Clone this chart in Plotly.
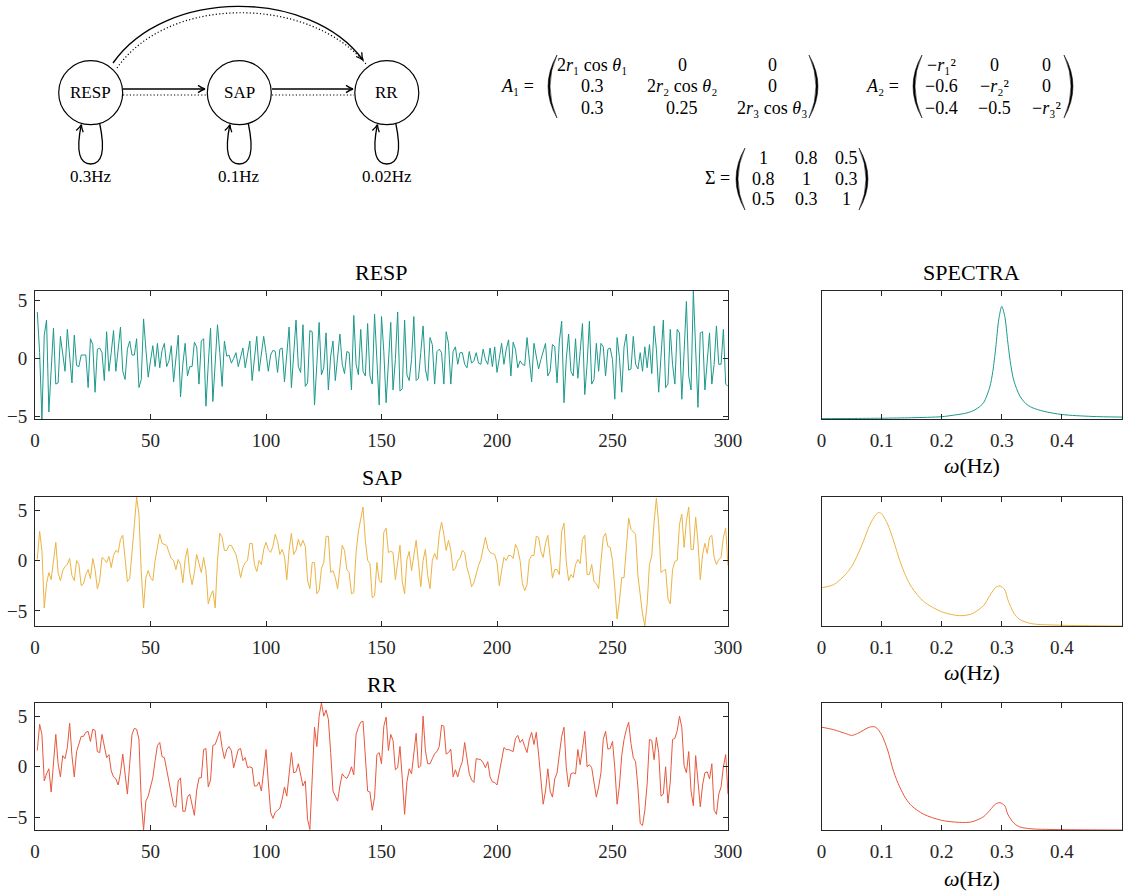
import plotly.graph_objects as go

W, H = 1126, 892

# ---------------- data ----------------
resp = [4.0, 0.5, -5.2, 2.0, 3.3, -4.6, -1.0, 2.6, -2.2, -2.1,
        1.9, 0.3, -1.1, 2.5, 0.5, -2.1, 2.0, -0.6, -0.7, 0.3,
        0.3, 0.3, -2.5, 1.7, 1.2, -2.9, 0.8, 0.9, 0.5, -1.9,
        2.3, -1.1, 0.5, 2.4, -1.1, 0.8, 2.7, -1.1, -1.8, 0.8,
        1.5, 0.3, 0.3, 1.7, -2.5, -1.8, 3.4, 0.8, -1.6, -0.2,
        1.1, -0.7, 1.3, -0.8, 0.7, 1.3, -0.7, -0.2, 1.1, -2.0,
        0.0, 2.0, -3.3, -0.5, 1.3, -1.5, -0.7, -0.7, 1.4, 1.0,
        -2.2, 1.5, 1.7, -4.1, -0.5, 2.6, -3.7, 0.0, 2.9, 0.5,
        -2.4, 1.5, 0.2, 0.3, -0.4, 0.0, 0.5, -0.7, 0.1, 0.9,
        -0.8, 0.5, 1.5, -1.9, 0.0, 1.9, -1.1, 0.3, 1.9, 0.5,
        -1.1, 0.3, 0.7, 0.6, -1.2, 0.8, 0.9, -2.0, 0.3, 2.7,
        -2.5, 0.5, 3.3, -0.7, -1.2, 2.9, -2.4, -2.1, 2.4, 2.3,
        -4.0, -0.5, 3.1, -1.4, -0.8, 2.2, -2.7, 0.2, 1.5, -1.9,
        0.2, 2.1, -0.5, -1.3, 0.6, 0.5, -2.7, 3.7, -0.5, -1.4,
        2.5, -1.1, -1.5, 3.0, -1.5, -2.2, 3.8, -0.5, -4.0, 3.6,
        0.6, -3.8, 0.0, 3.1, -2.7, -0.1, 4.0, -2.8, -2.6, 3.3,
        -1.4, -1.9, -0.1, 3.6, -1.9, -1.7, 0.5, 2.8, -0.9, -1.9,
        1.8, 1.2, -2.2, 0.6, 0.8, 0.5, -2.2, 2.3, 1.3, -2.2,
        0.6, 1.0, -0.5, 0.5, 0.5, -0.5, -0.8, 0.6, -0.4, -0.2,
        0.5, -0.4, -0.5, 0.8, -0.1, -0.5, 0.9, -0.7, 1.0, -1.2,
        0.0, 1.3, -0.5, 0.8, 1.6, -1.5, 1.4, 0.8, -0.8, -0.2,
        -0.5, -0.6, 1.8, 0.0, -2.0, 1.3, 0.2, -0.9, -0.1, 0.6,
        1.3, -1.5, -1.1, 1.2, 1.0, -2.1, 1.5, 3.2, -3.8, 0.0,
        2.1, -1.1, -1.5, 1.7, -1.7, 0.6, 3.0, -3.1, -0.5, 3.2,
        -2.2, -1.8, 1.3, -1.1, 1.3, 1.0, -1.5, 0.8, 0.9, -0.1,
        -3.5, 1.8, 0.1, -2.9, 1.0, 2.1, -1.0, -0.9, 1.9, -0.5,
        -0.9, 0.5, -1.1, 1.0, -0.8, 1.2, -1.3, 2.8, 0.8, -2.9,
        -0.1, 3.3, -2.5, -2.2, 2.5, -0.5, -2.2, 2.5, 2.2, -3.5,
        0.6, 4.9, -1.5, -2.7, 5.8, 0.3, -4.2, 2.2, 2.3, -2.7,
        0.1, 2.2, -2.2, -0.5, 2.8, -0.5, -0.5, 2.5, -2.2, -2.4]

sap = [0.1, 2.9, 1.0, -4.7, -2.3, -1.2, -1.9, 0.3, 1.8, -1.2,
       -2.0, -1.0, -0.6, -0.4, 0.2, -1.5, -2.0, 0.0, -0.4, -2.5,
       -2.3, -1.4, -0.9, -1.8, 0.2, -0.9, -2.8, -2.0, 0.3, 0.1,
       -0.2, 0.4, -0.7, 0.5, 1.0, 0.8, 2.1, 2.5, 0.0, -2.1,
       -1.8, 0.6, 3.5, 6.3, 4.6, -1.2, -4.7, -1.7, -1.0, -1.7,
       -2.0, 0.0, 1.5, 2.6, 1.7, 1.6, 1.5, 0.8, 0.2, 0.0,
       -0.9, 0.1, -0.4, -2.2, 0.1, 1.2, -1.2, -2.4, -1.2, 0.6,
       -0.2, -1.2, 0.3, -1.0, -4.3, -3.5, -3.0, -4.7, 0.0, 2.7,
       2.3, 1.0, 1.0, 1.5, 1.5, 1.0, 0.6, -0.4, -1.7, -0.7,
       -0.2, 0.0, 1.7, 1.7, -0.4, -1.1, 0.0, -0.4, 1.1, 1.8,
       1.1, 0.8, 1.4, 2.6, 1.9, 0.6, 1.1, 0.4, -1.9, 1.0,
       2.7, 0.6, 1.0, 2.1, 1.4, 2.0, 1.4, -2.0, -2.8, -0.2,
       -0.2, -3.3, -3.0, -0.8, -0.2, 2.4, 2.4, -1.2, -1.0, -1.7,
       -2.8, -0.7, 1.5, 1.0, -0.9, -1.2, -3.3, -3.2, 0.8, 2.9,
       4.2, 5.3, 2.0, 0.0, -0.3, -3.7, -3.5, -0.2, -2.0, -2.2,
       2.8, 3.2, 0.8, 0.9, 0.8, -1.9, -0.2, 1.5, -2.1, -3.3,
       0.1, 0.9, -1.0, 0.6, 2.0, -0.2, -2.6, 0.0, 1.1, -1.5,
       -2.8, 0.0, 0.7, 0.1, 2.6, 3.8, 2.6, 1.0, 2.0, 1.0,
       -1.0, -0.8, 0.0, 0.2, 1.0, 0.8, -0.7, -1.5, -2.6, -2.2,
       -1.2, -0.5, 0.1, 1.3, 2.3, 1.2, 0.8, 0.7, 0.6, -0.2,
       -2.5, -1.0, 0.3, 0.0, 0.5, 0.5, 0.2, 1.6, 1.1, 0.0,
       -2.3, -3.0, -2.4, 0.1, 0.5, 0.5, 2.4, 2.3, 0.9, 0.3,
       1.7, 2.5, 0.0, -1.75, -0.9, -0.9, -1.4, 2.9, 3.7, -0.2,
       -2.0, -1.4, -1.7, -0.4, 0.1, -0.3, 2.1, 2.5, -1.4, -1.4,
       -0.4, -2.1, -2.3, -2.8, -0.1, 2.3, 2.7, 1.4, 1.3, 0.0,
       -2.7, -5.8, -4.0, -1.7, -1.7, 1.6, 4.2, 3.1, 2.8, 2.6,
       -1.5, -3.4, -5.3, -6.5, -4.3, -0.4, 0.5, 3.8, 6.2, 3.6,
       -1.2, -1.0, -0.9, -3.8, -4.3, -0.9, -0.1, 0.0, 3.6, 4.6,
       1.3, 3.9, 5.3, 1.1, 1.1, 4.3, 1.8, -1.9, 0.6, 1.7,
       0.7, 2.3, 2.5, 0.3, -0.4, 0.1, 0.3, 2.3, 3.2, -0.5]

rr = [1.6, 4.2, 3.2, -1.4, -0.7, -0.2, -2.5, 0.3, 3.2, 0.3,
      -1.0, 1.1, 0.8, 1.9, 4.3, 1.1, -1.0, 1.5, 2.2, 3.0,
      3.0, 3.4, 3.5, 2.5, 3.7, 3.6, 1.5, 1.4, 3.2, 1.9,
      0.9, 1.2, -0.4, -1.0, -1.2, -1.8, -0.6, 1.25, -0.7, -2.7,
      0.3, 3.2, 3.8, 3.7, 2.7, -3.4, -6.25, -3.4, -2.9, -2.0,
      -1.1, 0.6, 2.1, 2.4, 1.0, 0.9, -0.2, -1.4, -2.4, -3.85,
      -4.0, -1.4, -1.1, -4.4, -4.4, -3.0, -2.7, -3.7, -4.8, -2.3,
      -1.1, -1.1, 1.7, 1.8, -2.0, -1.3, 2.1, 2.2, 2.9, 3.5,
      1.9, 0.8, 1.7, 2.0, 1.6, -0.1, 0.8, 1.7, 1.8, 0.6,
      0.9, -0.1, 0.0, -0.1, -1.9, -1.9, -1.5, -2.4, -0.4, 1.7,
      -1.5, -4.5, -5.1, -4.5, -4.3, -4.1, -3.2, -2.0, -2.9, -0.9,
      1.4, -0.6, -0.5, 0.3, -1.0, -1.9, -1.4, -5.2, -6.2, -1.1,
      3.9, 2.0, 5.0, 6.3, 5.0, 5.6, 4.7, 1.4, -2.4, -2.9,
      -3.4, -1.9, -0.7, -1.0, -1.15, -0.7, 0.0, -0.8, 3.2, 3.9,
      4.4, 4.5, 1.4, -2.4, -2.5, -4.3, -3.0, 1.2, 1.4, 0.3,
      4.0, 4.9, 1.6, 3.2, 2.6, -0.3, -0.1, 2.0, -1.2, -4.7,
      -1.5, -0.2, -0.7, 1.4, 3.3, -0.1, 0.1, 5.0, 1.6, 0.3,
      0.3, 0.8, 1.3, 1.5, 2.0, 4.1, 4.0, 1.25, 1.4, 1.75,
      -1.0, -0.3, -1.0, -0.1, 0.5, 2.4, 0.6, -0.7, -1.3, -1.55,
      0.8, 0.75, 0.7, 0.4, -0.1, 0.5, -1.0, -1.5, -1.55, -1.8,
      -0.6, 0.6, 1.9, 1.7, 1.7, 1.6, 1.5, 2.8, 3.1, 2.4,
      2.7, 2.0, 1.4, 2.7, 3.4, 2.2, 3.4, 1.25, -1.7, -3.7,
      -2.4, -0.2, -2.4, -3.0, -1.2, -0.6, 1.25, 3.0, 3.9, -0.1,
      -2.0, -0.7, -0.6, -0.7, 1.7, 0.2, 1.8, 3.5, 0.0, 0.2,
      -0.1, -1.4, -3.0, -2.0, -0.6, 2.7, 3.5, 1.75, 1.8, 2.5,
      -0.1, -3.7, -1.9, 1.1, 2.7, 3.7, 4.4, 2.3, 0.9, 0.5,
      -2.0, -5.6, -5.8, -4.3, -1.7, 2.7, 2.6, 0.7, 2.9, 1.4,
      -2.9, -2.7, 0.0, -3.6, -1.5, 2.7, 2.8, 3.55, 5.0, 3.9,
      0.1, -0.6, 1.5, -2.4, -3.85, 1.1, -1.8, -3.95, -1.8, -0.6,
      -0.5, -1.2, 0.3, -4.3, -4.7, -2.7, -2.0, 0.0, 1.2, -2.7]

t = list(range(1, len(resp) + 1))

# spectra (arbitrary units)
spec_f_resp = [0, 0.05, 0.1, 0.15, 0.2, 0.22, 0.24, 0.25, 0.26, 0.27, 0.28, 0.285,
               0.29, 0.295, 0.3, 0.305, 0.31, 0.315, 0.32, 0.33, 0.34, 0.35, 0.37,
               0.4, 0.45, 0.5]
spec_resp = [0.003, 0.004, 0.006, 0.01, 0.018, 0.03, 0.045, 0.06, 0.085, 0.13, 0.25, 0.37,
             0.56, 0.78, 0.88, 0.80, 0.60, 0.42, 0.30, 0.18, 0.12, 0.09, 0.06,
             0.035, 0.02, 0.015]

spec_f_sap = [0, 0.02, 0.04, 0.05, 0.06, 0.07, 0.08, 0.09, 0.095, 0.1, 0.11, 0.12,
              0.13, 0.14, 0.15, 0.17, 0.2, 0.23, 0.25, 0.27, 0.28, 0.29, 0.297,
              0.305, 0.31, 0.32, 0.33, 0.35, 0.4, 0.5]
spec_sap = [0.296, 0.32, 0.40, 0.46, 0.55, 0.66, 0.78, 0.86, 0.88, 0.87, 0.79, 0.66,
            0.51, 0.39, 0.30, 0.19, 0.11, 0.08, 0.094, 0.16, 0.236, 0.30, 0.31,
            0.28, 0.205, 0.10, 0.05, 0.018, 0.006, 0.0]

spec_f_rr = [0, 0.02, 0.04, 0.05, 0.06, 0.08, 0.09, 0.1, 0.11, 0.12, 0.13, 0.14,
             0.15, 0.17, 0.2, 0.23, 0.25, 0.27, 0.28, 0.29, 0.297, 0.305, 0.31,
             0.32, 0.33, 0.35, 0.4, 0.5]
spec_rr = [0.81, 0.79, 0.76, 0.745, 0.76, 0.81, 0.81, 0.75, 0.63, 0.46, 0.34, 0.25,
           0.19, 0.124, 0.076, 0.06, 0.064, 0.106, 0.155, 0.206, 0.215, 0.19, 0.124,
           0.055, 0.024, 0.009, 0.003, 0.0]

ts_xticks = [0, 50, 100, 150, 200, 250, 300]
ts_yticks = [-5, 0, 5]
spec_xticks = [0, 0.1, 0.2, 0.3, 0.4]
spec_xticktext = ['0', '0.1', '0.2', '0.3', '0.4']

titles = ['RESP', 'SAP', 'RR']
node_names = ['RESP', 'SAP', 'RR']
node_freqs = ['0.3Hz', '0.1Hz', '0.02Hz']

A1 = [['2<i>r</i>₁ cos <i>θ</i>₁', '0', '0'],
      ['0.3', '2<i>r</i>₂ cos <i>θ</i>₂', '0'],
      ['0.3', '0.25', '2<i>r</i>₃ cos <i>θ</i>₃']]
A2 = [['−<i>r</i>₁²', '0', '0'],
      ['−0.6', '−<i>r</i>₂²', '0'],
      ['−0.4', '−0.5', '−<i>r</i>₃²']]
SIGMA = [['1', '0.8', '0.5'],
         ['0.8', '1', '0.3'],
         ['0.5', '0.3', '1']]

# ---------------- style ----------------
FONT = 'Liberation Serif'
AX = '#262626'
C_RESP = '#1b998b'
C_SAP = '#ecb342'
C_RR = '#e8573c'
DOT = '1.2px,2.2px'


def P(x, y):
    return f"{x / W:.5f},{1 - y / H:.5f}"


fig = go.Figure()

series = [(resp, C_RESP), (sap, C_SAP), (rr, C_RR)]
spectra = [(spec_f_resp, spec_resp, C_RESP), (spec_f_sap, spec_sap, C_SAP),
           (spec_f_rr, spec_rr, C_RR)]

rows_px = [(291, 419), (497, 626), (703, 830)]
ts_x = (35, 728)
sp_x = (821.5, 1122)

layout_axes = {}
for i in range(3):
    ts_id = 2 * i + 1
    sp_id = 2 * i + 2
    y, c = series[i]
    fig.add_trace(go.Scatter(x=t, y=y, mode='lines', line=dict(color=c, width=1),
                             xaxis=f'x{ts_id}', yaxis=f'y{ts_id}', hoverinfo='skip',
                             showlegend=False))
    f, s, c2 = spectra[i]
    fig.add_trace(go.Scatter(x=f, y=s, mode='lines', line=dict(color=c2, width=1, shape='spline',
                                                             smoothing=0.8),
                             xaxis=f'x{sp_id}', yaxis=f'y{sp_id}', hoverinfo='skip',
                             showlegend=False))
    top, bot = rows_px[i]
    ydom = [1 - bot / H, 1 - top / H]
    common = dict(showline=True, linecolor=AX, linewidth=1, mirror='ticks',
                  ticks='inside', ticklen=5, tickcolor=AX, tickwidth=1,
                  showgrid=False, zeroline=False, automargin=False,
                  tickfont=dict(family=FONT, size=19, color=AX))
    layout_axes[f'xaxis{ts_id}'] = dict(common, domain=[ts_x[0] / W, ts_x[1] / W],
                                        anchor=f'y{ts_id}', range=[0, 300],
                                        tickvals=ts_xticks, ticklabelstandoff=4)
    layout_axes[f'yaxis{ts_id}'] = dict(common, domain=ydom, anchor=f'x{ts_id}',
                                        range=[min(y), max(y)], tickvals=ts_yticks,
                                        ticklabelstandoff=3)
    layout_axes[f'xaxis{sp_id}'] = dict(common, domain=[sp_x[0] / W, sp_x[1] / W],
                                        anchor=f'y{sp_id}', range=[0, 0.5],
                                        tickvals=spec_xticks, ticktext=spec_xticktext,
                                        ticklabelstandoff=4)
    layout_axes[f'yaxis{sp_id}'] = dict(common, domain=ydom, anchor=f'x{sp_id}',
                                        range=[0, 1], ticks='', showticklabels=False)

annotations = []
shapes = []


def text(x, y, s, size, color='black'):
    annotations.append(dict(x=x / W, y=1 - y / H, xref='paper', yref='paper', text=s,
                            showarrow=False, xanchor='center', yanchor='middle',
                            font=dict(family=FONT, size=size, color=color)))


# panel titles and axis labels
ts_cx = (ts_x[0] + ts_x[1]) / 2
sp_cx = (sp_x[0] + sp_x[1]) / 2
for i, ty in enumerate([272, 477, 684]):
    text(ts_cx, ty, titles[i], 22)
text(sp_cx, 272, 'SPECTRA', 22)
for wy in [466, 672, 878]:
    text(sp_cx, wy, '<i>ω</i>(Hz)', 22)


# ---------------- diagram ----------------
def arrowhead(tx, ty, dx, dy, L=7.0, w=3.6):
    n = (dx * dx + dy * dy) ** 0.5
    dx, dy = dx / n, dy / n
    nx, ny = -dy, dx
    bx, by = tx - L * dx, ty - L * dy
    p1 = (bx + w * nx, by + w * ny)
    p2 = (bx - w * nx, by - w * ny)
    c1 = (tx - 0.4 * L * dx + 0.2 * w * nx, ty - 0.4 * L * dy + 0.2 * w * ny)
    c2 = (tx - 0.4 * L * dx - 0.2 * w * nx, ty - 0.4 * L * dy - 0.2 * w * ny)
    shapes.append(dict(type='path', xref='paper', yref='paper',
                       path=f"M {P(*p1)} Q {P(*c1)} {P(tx, ty)} Q {P(*c2)} {P(*p2)}",
                       line=dict(color='black', width=1.3)))


def path(d, dash='solid', width=1.3):
    shapes.append(dict(type='path', xref='paper', yref='paper', path=d,
                       line=dict(color='black', width=width, dash=dash)))


nodes = [(90.7, 92.7), (239.3, 92.7), (386.8, 92.7)]
R = 32
for (cx, cy), name, fq in zip(nodes, node_names, node_freqs):
    shapes.append(dict(type='circle', xref='paper', yref='paper',
                       x0=(cx - R) / W, x1=(cx + R) / W,
                       y0=1 - (cy + R) / H, y1=1 - (cy - R) / H,
                       line=dict(color='black', width=1.2)))
    text(cx, cy, name, 17)
    text(cx, 176, fq, 17)
    # self loop
    path(f"M {P(cx + 9, 123.5)} C {P(cx + 15, 152)} {P(cx + 11, 164)} {P(cx, 164)} "
         f"C {P(cx - 11, 164)} {P(cx - 15, 152)} {P(cx - 9.5, 125)}")
    arrowhead(cx - 9.3, 124.5, 0.25, -1)

# straight arrows
for x0, x1 in [(123, 205), (272, 353)]:
    path(f"M {P(x0, 89)} L {P(x1 - 1, 89)}", width=1.6)
    arrowhead(x1, 89, 1, 0)
    path(f"M {P(x0, 95)} L {P(x1 + 1, 95)}", dash=DOT, width=1.2)

# curved arrow RESP -> RR
path(f"M {P(113, 63)} C {P(165, -12)} {P(310, -12)} {P(363, 60)}", width=1.4)
arrowhead(363, 60, 53, 72)
path(f"M {P(117, 68)} C {P(168, -5)} {P(308, -5)} {P(366, 64)}", dash=DOT, width=1.2)


# ---------------- matrices ----------------
def paren(xt, yt, yb, side):
    ym = (yt + yb) / 2
    outer = xt - 18 * side
    inner = xt - 14 * side
    shapes.append(dict(type='path', xref='paper', yref='paper',
                       path=f"M {P(xt, yt)} Q {P(outer, ym)} {P(xt, yb)} "
                            f"Q {P(inner, ym)} {P(xt, yt)} Z",
                       fillcolor='black', line=dict(color='black', width=0.5)))


def matrix(label, lx, entries, cols, rows, left, right, top, bottom):
    text(lx, (rows[0] + rows[-1]) / 2, label, 18)
    for r, row in enumerate(entries):
        for c, e in enumerate(row):
            text(cols[c], rows[r], e, 18)
    paren(left, top, bottom, 1)
    paren(right, top, bottom, -1)


matrix('<i>A</i>₁ =', 517, A1, [592, 682, 772], [65, 86, 108], 557, 809, 55, 118)
matrix('<i>A</i>₂ =', 882, A2, [941, 994, 1046], [65, 86, 108], 922, 1064, 55, 118)
matrix('Σ =', 717, SIGMA, [763, 806, 846], [158, 179, 199], 745, 859, 148, 210)

fig.update_layout(width=W, height=H, margin=dict(l=0, r=0, t=0, b=0),
                  paper_bgcolor='white', plot_bgcolor='white', showlegend=False,
                  annotations=annotations, shapes=shapes, **layout_axes)

fig.write_html("out.html", config={'displayModeBar': False},
               post_script="document.body.style.margin='0px';"
                           "document.body.style.overflow='hidden';")
